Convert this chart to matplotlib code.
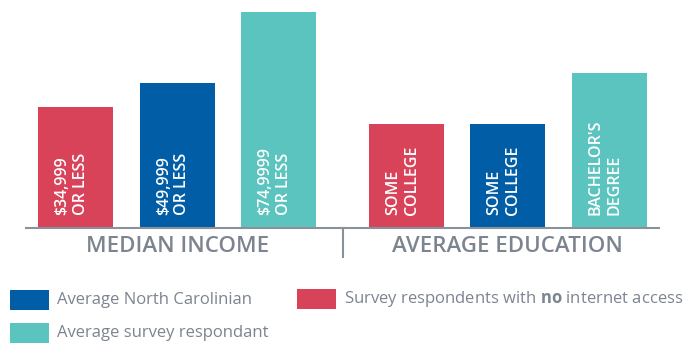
import matplotlib
matplotlib.use("Agg")
import matplotlib.pyplot as plt
from matplotlib.patches import Rectangle

plt.rcParams['font.family'] = ['Open Sans', 'DejaVu Sans']
plt.rcParams['mathtext.fontset'] = 'custom'
plt.rcParams['mathtext.rm'] = 'Open Sans'
plt.rcParams['mathtext.bf'] = 'Open Sans:bold'

# Chart data
groups = ["MEDIAN INCOME", "AVERAGE EDUCATION"]
series = ["Survey respondents with no internet access",
          "Average North Carolinian",
          "Average survey respondant"]
income_heights = [121, 145, 216]
income_labels = ["$34,999\nOR LESS", "$49,999\nOR LESS", "$74,9999\nOR LESS"]
education_heights = [104, 104, 155]
education_labels = ["SOME\nCOLLEGE", "SOME\nCOLLEGE", "BACHELOR'S\nDEGREE"]

RED = "#D8435A"
BLUE = "#005DA6"
TEAL = "#5BC4BE"
GRAY = "#7C8490"
colors = [RED, BLUE, TEAL]

W, H = 699, 343
fig = plt.figure(figsize=(W / 100, H / 100), dpi=100)
ax = fig.add_axes([26 / W, (H - 228) / H, 633 / W, 220 / H])
ax.set_xlim(-0.49, 5.75)
ax.set_ylim(0, 220)

group_offsets = [0.0, 3.26]
bar_width = 0.74
for off, heights, labels in [(group_offsets[0], income_heights, income_labels),
                             (group_offsets[1], education_heights, education_labels)]:
    xs = [off + i for i in range(3)]
    ax.bar(xs, heights, width=bar_width, color=colors, linewidth=0)
    for x, lab in zip(xs, labels):
        ax.text(x - 0.04, 13, lab, rotation=90, ha='center', va='bottom',
                multialignment='left', color='white', fontsize=11.5,
                linespacing=1.22, fontweight='semibold')

for s in ['top', 'right', 'left']:
    ax.spines[s].set_visible(False)
ax.spines['bottom'].set_color("#8A919B")
ax.spines['bottom'].set_linewidth(1.5)
ax.set_xticks([])
ax.set_yticks([])

# divider between the two groups
ax.plot([2.635, 2.635], [0, -29], color="#8A919B", lw=1.5, clip_on=False)

for off, name in zip(group_offsets, groups):
    ax.text(off + 1, -19, name, ha='center', va='center', color=GRAY,
            fontsize=16, fontweight='semibold')

# legend
def legend_item(x, y, color, text):
    fig.add_artist(Rectangle((x / W, 1 - (y + 20) / H), 39 / W, 20 / H,
                             transform=fig.transFigure, color=color, lw=0))
    fig.text((x + 47) / W, 1 - (y + 10) / H, text, ha='left', va='center',
             color=GRAY, fontsize=12.0)

legend_item(10, 290, BLUE, series[1])
legend_item(297, 289, RED, r"Survey respondents with $\bf{no}$ internet access")
legend_item(10, 323, TEAL, series[2])

fig.savefig("out.png", dpi=100)
